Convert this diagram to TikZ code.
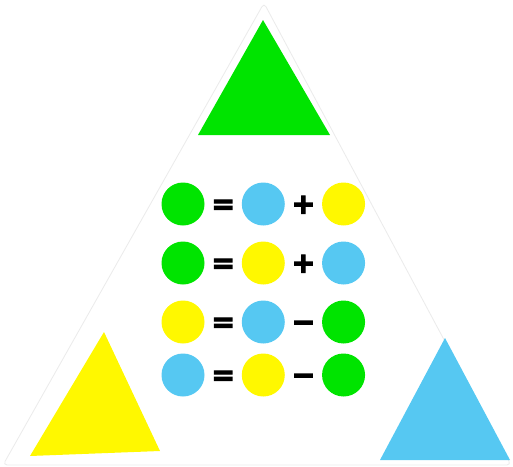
\documentclass[tikz,border=0pt]{standalone}
\usepackage{fontspec}
\usepackage{tikz}
\usetikzlibrary{
  positioning,
  calc
}
\newfontfamily\signfont[FakeBold=4]{DejaVu Sans Bold}

\definecolor{tgreen}{RGB}{0,228,0}
\definecolor{tyellow}{RGB}{255,248,0}
\definecolor{tblue}{RGB}{86,200,242}

\begin{document}
\begin{tikzpicture}[
x=0.5mm,y=-0.5mm,
bola/.style={
circle,
minimum size=21.5mm,
inner sep=0pt
},
verde/.style={bola,fill=tgreen},
amarelo/.style={bola,fill=tyellow},
azul/.style={bola,fill=tblue},
sinal/.style={
font=\signfont\fontsize{40}{40}\selectfont,
inner sep=0pt,
text height=27pt,
text depth=0pt
}
]
\useasboundingbox (0,0) rectangle (513,466);

% big triangle
\draw[black!8,line width=1.2pt,rounded corners=6pt]
(264,3) -- (3,465) -- (511,465) -- cycle;

% corner triangles
\fill[tgreen] (263,20) -- (198,135) -- (330,135) -- cycle;
\fill[tyellow] (104,332) -- (30,456) -- (160,451) -- cycle;
\fill[tblue] (445,338) -- (380,460) -- (510,460) -- cycle;

% row 1
\node[verde] (a1) at (183,204) {};
\node[azul,right=18.5mm of a1] (b1) {};
\node[amarelo,right=18.5mm of b1] (c1) {};
\node[sinal] (eq1) at ($(a1)!0.5!(b1)$) {=};
\node[sinal] (op1) at ($(b1)!0.5!(c1)$) {+};

% row 2
\node[verde] (a2) at (183,263) {};
\node[amarelo,right=18.5mm of a2] (b2) {};
\node[azul,right=18.5mm of b2] (c2) {};
\node[sinal] (eq2) at ($(a2)!0.5!(b2)$) {=};
\node[sinal] (op2) at ($(b2)!0.5!(c2)$) {+};

% row 3
\node[amarelo] (a3) at (183,322) {};
\node[azul,right=18.5mm of a3] (b3) {};
\node[verde,right=18.5mm of b3] (c3) {};
\node[sinal] (eq3) at ($(a3)!0.5!(b3)$) {=};
\node[sinal] (op3) at ($(b3)!0.5!(c3)$) {−};

% row 4
\node[azul] (a4) at (183,375) {};
\node[amarelo,right=18.5mm of a4] (b4) {};
\node[verde,right=18.5mm of b4] (c4) {};
\node[sinal] (eq4) at ($(a4)!0.5!(b4)$) {=};
\node[sinal] (op4) at ($(b4)!0.5!(c4)$) {−};

\end{tikzpicture}
\end{document}
